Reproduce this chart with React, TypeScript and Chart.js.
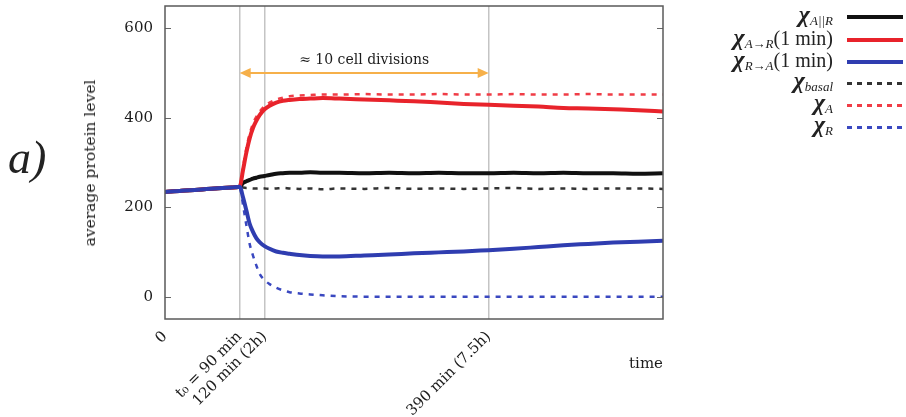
import React, { useEffect, useRef } from 'react';
import { Chart, registerables } from 'chart.js';

Chart.register(...registerables);

// ---------- data ----------
const TIMES = [0, 20, 40, 60, 80, 90, 94, 98, 102, 106, 110, 114, 120, 126, 134, 142, 150, 162, 175, 190, 210, 240, 270, 300, 330, 360, 390, 420, 450, 480, 510, 540, 570, 600];

const CHI_A_OR_R = [234, 237, 239, 242, 244, 246, 254, 258, 261, 264, 266, 268, 270, 272, 275, 276, 277, 277, 278, 277, 277, 276, 277, 276, 277, 276, 276, 277, 276, 277, 276, 276, 275, 276];
const CHI_A_TO_R = [234, 237, 239, 242, 244, 246, 283, 322, 354, 377, 393, 406, 419, 427, 434, 438, 440, 442, 443, 444, 443, 441, 439, 437, 434, 431, 429, 427, 425, 422, 421, 419, 417, 414];
const CHI_R_TO_A = [234, 237, 239, 242, 244, 246, 222, 193, 163, 145, 131, 122, 113, 107, 101, 98, 96, 93, 91, 90, 90, 92, 94, 97, 99, 101, 104, 107, 111, 115, 118, 121, 123, 125];
const CHI_BASAL = [234, 237, 239, 242, 244, 246, 244, 243, 243, 242, 242, 243, 242, 241, 242, 243, 242, 241, 242, 240, 242, 241, 243, 241, 242, 241, 242, 243, 241, 242, 241, 242, 242, 241];
const CHI_A = [234, 237, 239, 242, 244, 246, 290, 332, 364, 387, 402, 414, 426, 434, 441, 445, 448, 450, 451, 452, 452, 453, 452, 452, 453, 452, 452, 453, 452, 452, 453, 452, 452, 452];
const CHI_R = [234, 237, 239, 242, 244, 246, 205, 160, 118, 92, 70, 51, 37, 28, 20, 14, 10, 7, 5, 3, 1, 0, 0, 0, 0, 0, 0, 0, 0, 0, 0, 0, 0, 0];

const X_TICKS = [0, 90, 120, 390];
const X_TICK_LABELS = ['0', 't\u2080 = 90 min', '120 min (2h)', '390 min (7.5h)'];
const Y_TICKS = [0, 200, 400, 600];
const X_RANGE = [0, 600];
const Y_RANGE = [-50, 650];

const ARROW_SPAN = [90, 390];
const ARROW_LEVEL = 500;
const ARROW_LABEL = '\u2248 10 cell divisions';

const LEGEND_SUBS = ['A||R', 'A\u2192R', 'R\u2192A', 'basal', 'A', 'R'];
const LEGEND_SUFFIX = ['', '(1 min)', '(1 min)', '', '', ''];

// ---------- styles ----------
const RED = '#e8232b';
const BLUE = '#2f3db0';
const BLACK = '#111111';
const RED_D = '#f03c46';
const BLUE_D = '#3a48c0';
const BLACK_D = '#333333';
const ORANGE = '#f6b04a';
const SERIF = '"DejaVu Serif", serif';
const TEXT = '#1c1c1c';

const LEGEND_STYLE = [
  { color: BLACK, dashed: false },
  { color: RED, dashed: false },
  { color: BLUE, dashed: false },
  { color: BLACK_D, dashed: true },
  { color: RED_D, dashed: true },
  { color: BLUE_D, dashed: true },
];

const pts = (vals: number[]) => TIMES.map((t, i) => ({ x: t, y: vals[i] }));

const decorPlugin = {
  id: 'decor',
  afterDraw(chart: any) {
    const { ctx, chartArea: a, scales } = chart;
    const xs = scales.x;
    const ys = scales.y;
    ctx.save();
    // inner y ticks
    ctx.strokeStyle = '#666';
    ctx.lineWidth = 1;
    Y_TICKS.forEach((v) => {
      const y = Math.round(ys.getPixelForValue(v)) + 0.5;
      ctx.beginPath();
      ctx.moveTo(a.left, y);
      ctx.lineTo(a.left + 6, y);
      ctx.moveTo(a.right, y);
      ctx.lineTo(a.right - 6, y);
      ctx.stroke();
    });
    // frame
    ctx.strokeStyle = '#5a5a5a';
    ctx.lineWidth = 1.5;
    ctx.strokeRect(a.left, a.top, a.right - a.left, a.bottom - a.top);
    // arrow
    const x1 = xs.getPixelForValue(ARROW_SPAN[0]);
    const x2 = xs.getPixelForValue(ARROW_SPAN[1]);
    const ya = ys.getPixelForValue(ARROW_LEVEL);
    ctx.strokeStyle = ORANGE;
    ctx.fillStyle = ORANGE;
    ctx.lineWidth = 2;
    ctx.beginPath();
    ctx.moveTo(x1 + 8, ya);
    ctx.lineTo(x2 - 8, ya);
    ctx.stroke();
    const head = (xt: number, dir: number) => {
      ctx.beginPath();
      ctx.moveTo(xt, ya);
      ctx.lineTo(xt + dir * 11, ya - 5);
      ctx.lineTo(xt + dir * 11, ya + 5);
      ctx.closePath();
      ctx.fill();
    };
    head(x1, 1);
    head(x2, -1);
    ctx.fillStyle = TEXT;
    ctx.font = `14px ${SERIF}`;
    ctx.textAlign = 'center';
    ctx.textBaseline = 'middle';
    ctx.fillText(ARROW_LABEL, (x1 + x2) / 2, ya - 13);
    ctx.restore();
  },
};

export default function App() {
  const ref = useRef<HTMLCanvasElement | null>(null);

  useEffect(() => {
    document.body.style.margin = '0';
    const solid = (label: string, vals: number[], color: string) => ({
      label,
      data: pts(vals),
      borderColor: color,
      backgroundColor: color,
      borderWidth: 4,
      pointRadius: 0,
      cubicInterpolationMode: 'monotone' as const,
      fill: false,
    });
    const dashed = (label: string, vals: number[], color: string) => ({
      ...solid(label, vals, color),
      borderWidth: 2.5,
      borderDash: [5, 6],
    });
    const chart = new Chart(ref.current as HTMLCanvasElement, {
      type: 'line',
      data: {
        datasets: [
          solid('χR→A(1 min)', CHI_R_TO_A, BLUE),
          solid('χA→R(1 min)', CHI_A_TO_R, RED),
          solid('χA||R', CHI_A_OR_R, BLACK),
          dashed('χR', CHI_R, BLUE_D),
          dashed('χA', CHI_A, RED_D),
          dashed('χbasal', CHI_BASAL, BLACK_D),
        ],
      },
      options: {
        responsive: false,
        animation: false,
        devicePixelRatio: 1,
        layout: { padding: { top: 6, right: 243, left: 0, bottom: 0 } },
        plugins: { legend: { display: false }, tooltip: { enabled: false } },
        scales: {
          x: {
            type: 'linear',
            min: X_RANGE[0],
            max: X_RANGE[1],
            afterBuildTicks: (s: any) => {
              s.ticks = X_TICKS.map((v) => ({ value: v }));
            },
            afterFit: (s: any) => {
              s.height = 98;
              s.paddingLeft = 0;
              s.paddingRight = 0;
            },
            ticks: {
              autoSkip: false,
              minRotation: 45,
              maxRotation: 45,
              padding: 9,
              color: TEXT,
              font: { family: SERIF, size: 15 },
              callback: (v: any) => X_TICK_LABELS[X_TICKS.indexOf(Number(v))] ?? '',
            },
            grid: {
              drawTicks: false,
              color: (c: any) => (c.tick && c.tick.value === 0 ? 'rgba(0,0,0,0)' : '#c4c4c4'),
              lineWidth: 1.5,
            },
            border: { display: false },
          },
          y: {
            type: 'linear',
            min: Y_RANGE[0],
            max: Y_RANGE[1],
            afterBuildTicks: (s: any) => {
              s.ticks = Y_TICKS.map((v) => ({ value: v }));
            },
            afterFit: (s: any) => {
              s.width = 165;
              s.paddingTop = 0;
              s.paddingBottom = 0;
            },
            ticks: {
              padding: 12,
              color: TEXT,
              font: { family: SERIF, size: 15 },
            },
            grid: { display: false, drawTicks: false },
            border: { display: false },
          },
        },
      },
      plugins: [decorPlugin],
    });
    return () => chart.destroy();
  }, []);

  const rowY = [17, 40, 62, 83, 105, 127];

  return (
    <div style={{ position: 'fixed', left: 0, top: 0, width: 906, height: 417, background: '#fff', overflow: 'hidden' }}>
      <canvas ref={ref} width={906} height={417} style={{ position: 'absolute', left: 0, top: 0, width: 906, height: 417 }} />
      <div style={{ position: 'absolute', left: 8, top: 130, font: 'italic 46px "Liberation Serif", serif', color: '#222', lineHeight: '56px' }}>a)</div>
      <div
        style={{
          position: 'absolute',
          left: 90,
          top: 163,
          transform: 'translate(-50%, -50%) rotate(-90deg)',
          whiteSpace: 'nowrap',
          font: `15.5px ${SERIF}`,
          color: TEXT,
        }}
      >
        average protein level
      </div>
      <div style={{ position: 'absolute', right: 243, top: 354, font: `15px ${SERIF}`, color: TEXT }}>time</div>
      {LEGEND_SUBS.map((sub, i) => (
        <React.Fragment key={i}>
          <div
            style={{
              position: 'absolute',
              right: 73,
              top: rowY[i] - 16,
              height: 28,
              display: 'flex',
              alignItems: 'baseline',
              whiteSpace: 'nowrap',
              color: '#222',
              fontFamily: '"Liberation Serif", serif',
            }}
          >
            <span style={{ fontStyle: 'italic', fontWeight: 'bold', fontSize: 24 }}>χ</span>
            <span style={{ fontStyle: 'italic', fontSize: 13, position: 'relative', top: 3 }}>{sub}</span>
            {LEGEND_SUFFIX[i] ? <span style={{ fontSize: 20 }}>{LEGEND_SUFFIX[i]}</span> : null}
          </div>
          <div
            style={{
              position: 'absolute',
              left: 847,
              width: 56,
              top: rowY[i] - (LEGEND_STYLE[i].dashed ? 1 : 2),
              height: LEGEND_STYLE[i].dashed ? 2.5 : 4,
              background: LEGEND_STYLE[i].dashed
                ? `repeating-linear-gradient(to right, ${LEGEND_STYLE[i].color} 0 5px, transparent 5px 10px)`
                : LEGEND_STYLE[i].color,
            }}
          />
        </React.Fragment>
      ))}
    </div>
  );
}
